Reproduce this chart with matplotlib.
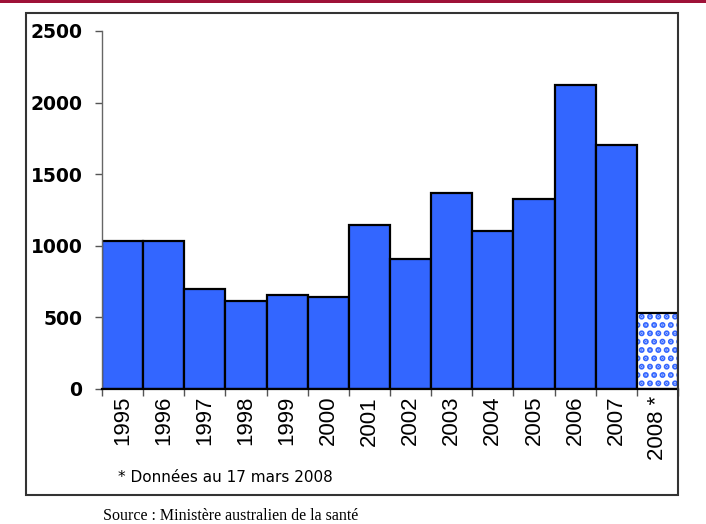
import matplotlib.pyplot as plt
import matplotlib.patches as patches
import numpy as np

blue = '#3366FF'

years = ['1995', '1996', '1997', '1998', '1999', '2000', '2001',
         '2002', '2003', '2004', '2005', '2006', '2007', '2008 *']
cases = [1033, 1033, 698, 614, 656, 642, 1143,
         908, 1369, 1103, 1327, 2123, 1702, 529]
partial = [False] * 13 + [True]

plt.rcParams['font.family'] = 'DejaVu Sans'
plt.rcParams['hatch.linewidth'] = 3.0

fig = plt.figure(figsize=(7.06, 5.24), dpi=100)
ax = fig.add_axes([102 / 706, 1 - 389 / 524, 576 / 706, 358 / 524])

xs = np.arange(len(years))
full_x = [x for x, p in zip(xs, partial) if not p]
full_y = [v for v, p in zip(cases, partial) if not p]
part_x = [x for x, p in zip(xs, partial) if p]
part_y = [v for v, p in zip(cases, partial) if p]

ax.bar(full_x, full_y, 1.0, color=blue, edgecolor='black', linewidth=1.6, zorder=2)
# dotted bar for the incomplete year
ax.bar(part_x, part_y, 1.0, color='white', edgecolor=blue, hatch='..',
       linewidth=0, zorder=2)
ax.bar(part_x, part_y, 1.0, color='none', edgecolor='black', linewidth=1.6, zorder=3)

ax.set_xlim(-0.5, len(years) - 0.5)
ax.set_ylim(0, 2500)
ax.set_yticks([0, 500, 1000, 1500, 2000, 2500])
ax.tick_params(axis='y', direction='out', length=5, width=1, color='#555555',
               pad=9, labelsize=13.5)
for lab in ax.get_yticklabels():
    lab.set_fontweight('bold')

ax.set_xticks(xs)
ax.set_xticklabels(years, rotation=90, fontsize=16, family='Liberation Sans')
ax.tick_params(axis='x', which='major', length=0, pad=5)
ax.set_xticks(np.arange(len(years) + 1) - 0.5, minor=True)
ax.tick_params(axis='x', which='minor', direction='out', length=5, width=1,
               color='#555555')

ax.spines['top'].set_visible(False)
ax.spines['right'].set_visible(False)
ax.spines['left'].set_color('#666666')
ax.spines['left'].set_linewidth(1)
ax.spines['bottom'].set_linewidth(1.6)
ax.spines['bottom'].set_zorder(4)

# outer frame
frame = patches.Rectangle((26 / 706, 1 - 495 / 524), 652 / 706, 482 / 524,
                          transform=fig.transFigure, fill=False,
                          edgecolor='#333333', linewidth=1.5, zorder=5)
fig.patches.append(frame)

# red band at the top
band = patches.Rectangle((0, 1 - 3 / 524), 1, 3 / 524, transform=fig.transFigure,
                         facecolor='#9E1238', edgecolor='none')
fig.patches.append(band)

fig.text(118 / 706, 1 - 478 / 524, '* Données au 17 mars 2008', fontsize=11,
         va='center', ha='left')
fig.text(103 / 706, 1 - 516 / 524, 'Source : Ministère australien de la santé',
         fontsize=11.5, family='Liberation Serif', va='center', ha='left')

fig.savefig('out.png', dpi=100)
